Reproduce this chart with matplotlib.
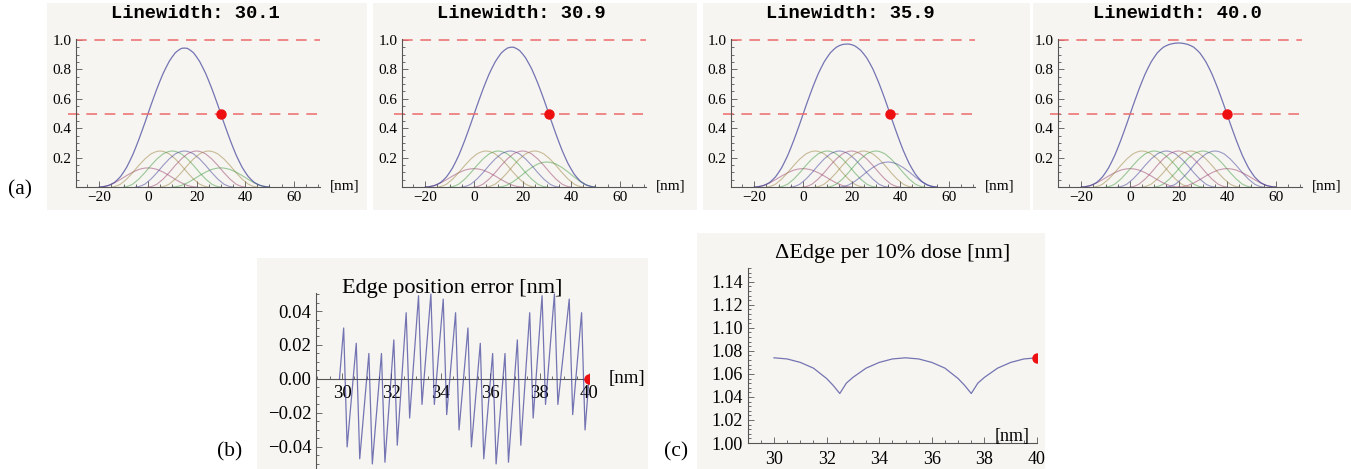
import numpy as np
import matplotlib.pyplot as plt
from matplotlib.patches import Rectangle
from matplotlib.ticker import MultipleLocator, FuncFormatter, FixedLocator

# beam profile (1.25 nm steps, -20..20 nm, peak = 1)
profile = [0.0, 0.01, 0.04, 0.08, 0.15, 0.22, 0.31, 0.40, 0.50, 0.60, 0.69, 0.78,
           0.85, 0.92, 0.96, 0.99, 1.0, 0.99, 0.96, 0.92, 0.85, 0.78, 0.69, 0.60,
           0.50, 0.40, 0.31, 0.22, 0.15, 0.08, 0.04, 0.01, 0.0]
profile_step = 1.25

# panel (a): line widths, pixel centres and doses
linewidths = [30.1, 30.9, 35.9, 40.0]
centers = [[0, 5, 10, 15, 20, 25, 30],
           [0, 5, 10, 15, 20, 25, 30],
           [0, 5, 10, 15, 20, 25, 30, 35],
           [0, 5, 10, 15, 20, 25, 30, 35, 40]]
doses = [[0.13, 0.245, 0.245, 0.245, 0.245, 0.245, 0.13],
         [0.125, 0.245, 0.245, 0.245, 0.245, 0.245, 0.17],
         [0.125, 0.245, 0.245, 0.245, 0.245, 0.245, 0.245, 0.17],
         [0.125, 0.245, 0.245, 0.245, 0.245, 0.245, 0.245, 0.245, 0.125]]

# panel (b): edge position error, peaks and troughs of the zigzag
peak_x = [30.07, 30.58, 31.09, 31.6, 32.1, 32.6, 33.1, 33.6, 34.1, 34.6,
          35.1, 35.6, 36.1, 36.6, 37.1, 37.6, 38.1, 38.6, 39.2, 39.7]
peak_y = [0.030, 0.021, 0.015, 0.015, 0.023, 0.039, 0.049, 0.050, 0.047, 0.039,
          0.030, 0.021, 0.015, 0.015, 0.023, 0.039, 0.049, 0.050, 0.047, 0.039]
trough_x = [30.21, 30.72, 31.23, 31.74, 32.24, 32.74, 33.24, 33.74, 34.24, 34.74,
            35.24, 35.74, 36.24, 36.74, 37.24, 37.74, 38.24, 38.74, 39.34, 39.84]
trough_y = [-0.040, -0.047, -0.050, -0.049, -0.039, -0.023, -0.015, -0.015, -0.021, -0.030,
            -0.040, -0.047, -0.050, -0.049, -0.039, -0.023, -0.015, -0.015, -0.021, -0.030]

# panel (c): delta edge per 10% dose
dedge_x = [30, 30.5, 31, 31.5, 32, 32.25, 32.5, 32.75, 33, 33.5, 34, 34.5, 35,
           35.5, 36, 36.5, 37, 37.25, 37.5, 37.75, 38, 38.5, 39, 39.5, 40]
dedge_y = [1.074, 1.073, 1.070, 1.065, 1.056, 1.050, 1.043, 1.052, 1.057, 1.065, 1.070, 1.073, 1.074,
           1.073, 1.070, 1.065, 1.056, 1.050, 1.043, 1.052, 1.057, 1.065, 1.070, 1.073, 1.074]

W, H = 1351, 469
fig = plt.figure(figsize=(W / 100, H / 100), dpi=100)
fig.patch.set_facecolor('white')
serif = ['Liberation Serif', 'DejaVu Serif']
bg = '#f6f5f1'
sum_col = (0.24, 0.24, 0.6)
comp_cols = [(0.6, 0.24, 0.42), (0.6, 0.5, 0.24), (0.24, 0.6, 0.24), (0.24, 0.24, 0.6)]
red_dash = '#ec6a6a'
dot_col = '#ee1010'


def panel_bg(x0, y0, x1, y1):
    fig.add_artist(Rectangle((x0 / W, 1 - y1 / H), (x1 - x0) / W, (y1 - y0) / H,
                             transform=fig.transFigure, fc=bg, ec='none', zorder=0))


def px_axes(x0, x1, ytop, ybot):
    ax = fig.add_axes([x0 / W, 1 - ybot / H, (x1 - x0) / W, (ybot - ytop) / H])
    ax.patch.set_alpha(0)
    for s in ['top', 'right']:
        ax.spines[s].set_visible(False)
    for s in ['left', 'bottom']:
        ax.spines[s].set_color('#555555')
        ax.spines[s].set_linewidth(0.8)
    ax.tick_params(which='both', direction='in', color='#555555', width=0.6)
    ax.tick_params(which='major', length=4)
    ax.tick_params(which='minor', length=2)
    return ax


def minus_fmt(fmt):
    def f(v, pos):
        s = fmt % v
        if s.startswith('-') and float(s) == 0:
            s = s[1:]
        return s.replace('-', '\u2212')
    return FuncFormatter(f)


# ---- panel (a) ----
offsets = [76, 402, 731, 1058]
bg_boxes = [(47, 367), (373, 697), (703, 1030), (1033, 1351)]
for i in range(4):
    panel_bg(bg_boxes[i][0], 3, bg_boxes[i][1], 210)
    o = offsets[i]
    ax = px_axes(o, o + 244, 39.3, 187)
    ax.set_xlim(-29.6, 70.8)
    ax.set_ylim(0, 1.005)
    prof = np.array(profile)
    offs = (np.arange(len(prof)) - len(prof) // 2) * profile_step
    xs = np.arange(-20, max(centers[i]) + 20 + 0.01, profile_step)
    total = np.zeros(len(xs))
    for k, (c, d) in enumerate(zip(centers[i], doses[i])):
        ax.plot(c + offs, d * prof, color=comp_cols[k % 4], lw=0.8, alpha=0.5)
        start = int(round(c / profile_step))
        total[start:start + len(prof)] += d * prof
    ax.plot(xs, total, color=sum_col, lw=0.9, alpha=0.7)
    l1, = ax.plot([-29.6, 70.8], [1.0, 1.0], color=red_dash, lw=1.1)
    l2, = ax.plot([-33, 70.8], [0.5, 0.5], color=red_dash, lw=1.1, clip_on=False)
    l1.set_dashes((7, 5))
    l2.set_dashes((7, 5))
    ax.plot([linewidths[i]], [0.5], 'o', color=dot_col, ms=6.5, zorder=5)
    ax.xaxis.set_major_locator(FixedLocator([-20, 0, 20, 40, 60]))
    ax.xaxis.set_minor_locator(MultipleLocator(5))
    ax.yaxis.set_major_locator(FixedLocator([0.2, 0.4, 0.6, 0.8, 1.0]))
    ax.yaxis.set_minor_locator(MultipleLocator(0.05))
    ax.xaxis.set_major_formatter(minus_fmt('%d'))
    ax.yaxis.set_major_formatter(minus_fmt('%.1f'))
    ax.tick_params(axis='x', pad=3)
    ax.tick_params(axis='y', pad=3)
    for lab in ax.get_xticklabels() + ax.get_yticklabels():
        lab.set_fontfamily(serif)
        lab.set_fontsize(11)
    fig.text((o + 119) / W, 1 - 14 / H, 'Linewidth: %.1f' % linewidths[i],
             family=['Liberation Mono', 'DejaVu Sans Mono'], weight='bold',
             fontsize=13.5, ha='center', va='center')
    fig.text((o + 269) / W, 1 - 186 / H, '[nm]', family=serif, fontsize=11,
             ha='center', va='center')

fig.text(20 / W, 1 - 190 / H, '(a)', family=serif, fontsize=15.5, ha='center', va='center')

# ---- panel (b) ----
panel_bg(257, 258, 648, 469)
ax = px_axes(316, 589, 293, 469)
ax.set_xlim(28.95, 40.0)
ax.set_ylim(-0.053, 0.0506)
ax.spines['bottom'].set_position(('data', 0))
bx = [29.9]
by = [0.0]
for px_, py_, tx_, ty_ in zip(peak_x, peak_y, trough_x, trough_y):
    bx += [px_, tx_]
    by += [py_, ty_]
bx.append(40.0)
by.append(0.0)
ax.plot(bx, by, color=sum_col, lw=0.9, alpha=0.7, zorder=3)
ax.plot([40.0], [0.0], 'o', color=dot_col, ms=6.5, zorder=5)
ax.xaxis.set_major_locator(FixedLocator([30, 32, 34, 36, 38, 40]))
ax.xaxis.set_minor_locator(MultipleLocator(0.5))
ax.yaxis.set_major_locator(MultipleLocator(0.02))
ax.yaxis.set_minor_locator(MultipleLocator(0.005))
ax.xaxis.set_major_formatter(minus_fmt('%d'))
ax.yaxis.set_major_formatter(minus_fmt('%.2f'))
for lab in ax.get_xticklabels() + ax.get_yticklabels():
    lab.set_fontfamily(serif)
    lab.set_fontsize(13.5)
ax.tick_params(axis='x', pad=4)
ax.set_title('Edge position error [nm]', family=serif, fontsize=16, pad=0, y=1.0)
fig.text(627 / W, 1 - 378 / H, '[nm]', family=serif, fontsize=13.5, ha='center', va='center')
fig.text(230 / W, 1 - 452 / H, '(b)', family=serif, fontsize=15.5, ha='center', va='center')

# ---- panel (c) ----
panel_bg(697, 233, 1045, 469)
ax = px_axes(748, 1037, 268, 443)
ax.set_xlim(29.01, 40.0)
ax.set_ylim(1.0, 1.152)
ax.plot(dedge_x, dedge_y, color=sum_col, lw=0.9, alpha=0.7)
ax.plot([40.0], [1.074], 'o', color=dot_col, ms=6.5, zorder=5)
ax.xaxis.set_major_locator(FixedLocator([30, 32, 34, 36, 38, 40]))
ax.xaxis.set_minor_locator(MultipleLocator(0.5))
ax.yaxis.set_major_locator(MultipleLocator(0.02))
ax.yaxis.set_minor_locator(MultipleLocator(0.004))
ax.yaxis.set_major_formatter(minus_fmt('%.2f'))
for lab in ax.get_xticklabels() + ax.get_yticklabels():
    lab.set_fontfamily(serif)
    lab.set_fontsize(13)
ax.tick_params(axis='x', pad=6)
ax.set_title('\u0394Edge per 10% dose [nm]', family=serif, fontsize=16, pad=7)
fig.text(1012 / W, 1 - 436 / H, '[nm]', family=serif, fontsize=13, ha='center', va='center')
fig.text(676 / W, 1 - 452 / H, '(c)', family=serif, fontsize=15.5, ha='center', va='center')

fig.savefig('out.png', dpi=100)
